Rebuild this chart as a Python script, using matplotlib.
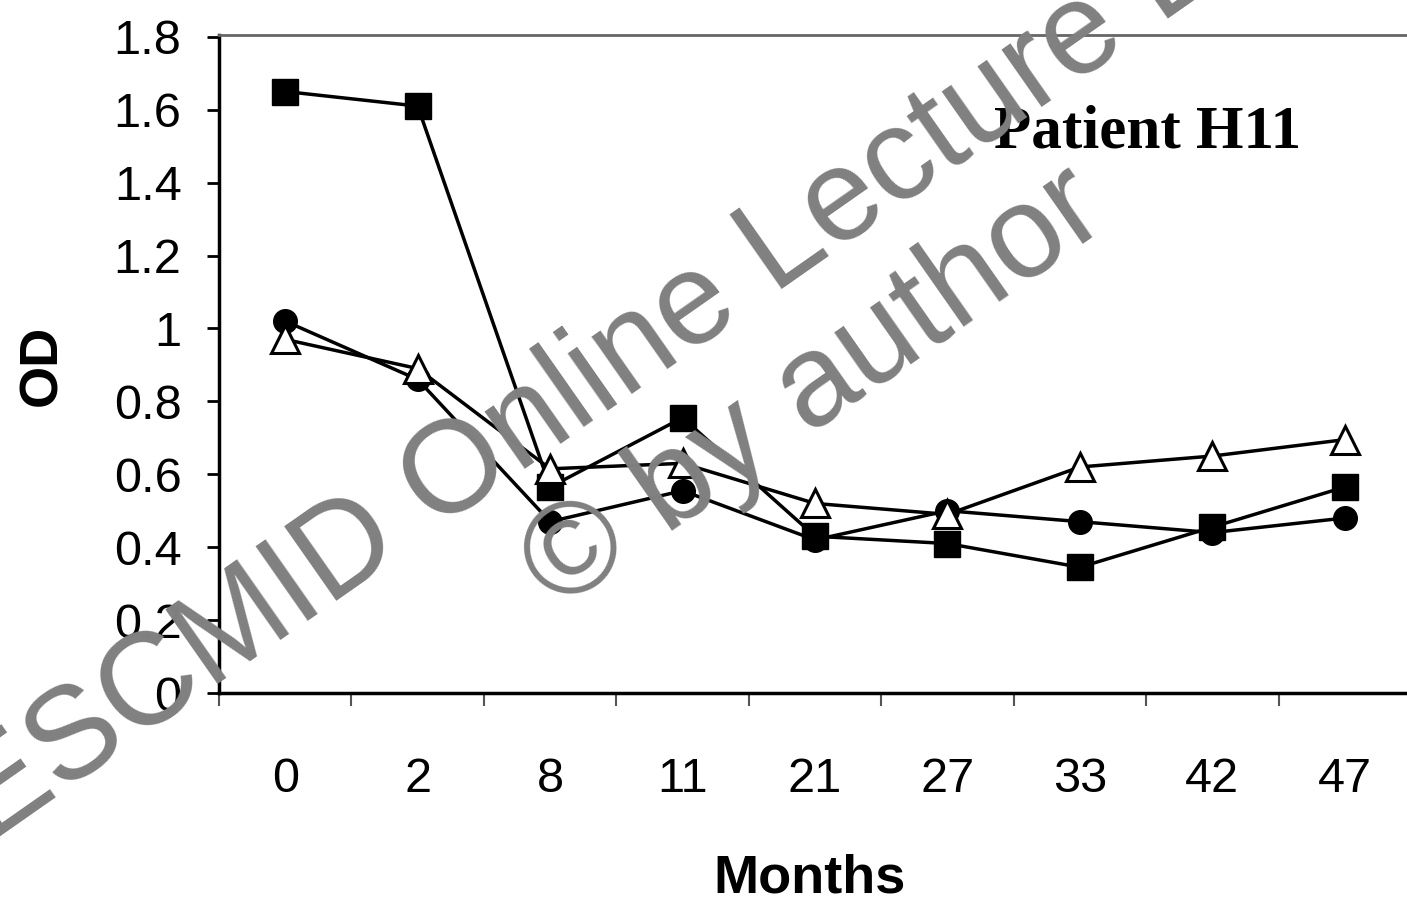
import matplotlib
matplotlib.use("Agg")
import matplotlib.pyplot as plt
import numpy as np

# OD readings per visit month, three antigens
months = ["0", "2", "8", "11", "21", "27", "33", "42", "47"]
od_squares = [1.65, 1.61, 0.565, 0.755, 0.43, 0.41, 0.345, 0.455, 0.565]
od_circles = [1.02, 0.86, 0.47, 0.555, 0.42, 0.50, 0.47, 0.44, 0.48]
od_triangles = [0.97, 0.89, 0.615, 0.63, 0.52, 0.49, 0.62, 0.65, 0.695]
y_ticks = [0, 0.2, 0.4, 0.6, 0.8, 1, 1.2, 1.4, 1.6, 1.8]
y_tick_labels = ["0", "0.2", "0.4", "0.6", "0.8", "1", "1.2", "1.4", "1.6", "1.8"]

plt.rcParams['font.family'] = ['Liberation Sans', 'DejaVu Sans']

W, H = 1407, 905
fig = plt.figure(figsize=(W / 100, H / 100), dpi=100)
ax = fig.add_axes([219 / W, 1 - 693 / H, 1192 / W, (693 - 35) / H])

x = np.arange(len(months))
ax.plot(x, od_circles, color='black', lw=2.5, marker='o', ms=17,
        mfc='black', mec='black', zorder=3, clip_on=False)
ax.plot(x, od_squares, color='black', lw=2.5, marker='s', ms=19,
        mfc='black', mec='black', zorder=4, clip_on=False)
ax.plot(x, od_triangles, color='black', lw=2.5, marker='^', ms=20,
        mfc='white', mec='black', mew=2.2, zorder=5, clip_on=False)

ax.set_xlim(-0.5, len(months) - 0.5)
ax.set_ylim(0, 1.805)

# y axis
ax.set_yticks(y_ticks)
ax.set_yticklabels(y_tick_labels, fontsize=35)
ax.tick_params(axis='y', direction='out', length=9, width=2, pad=18)

# x axis: ticks between categories, labels at categories
ax.set_xticks(np.arange(len(months) + 1) - 0.5)
ax.set_xticklabels([])
ax.tick_params(axis='x', which='major', direction='out', length=9,
               width=1.5, color='#555555')
ax.set_xticks(x, minor=True)
ax.set_xticklabels(months, minor=True, fontsize=35)
ax.tick_params(axis='x', which='minor', length=0, pad=46)

ax.spines['left'].set_linewidth(2.5)
ax.spines['bottom'].set_linewidth(2.5)
ax.spines['top'].set_color('#666666')
ax.spines['top'].set_linewidth(2)
ax.spines['top'].set_linestyle((0, (3, 1)))
ax.spines['right'].set_visible(False)

fig.text(810 / W, 1 - 878 / H, "Months", fontsize=39, fontweight='bold',
         ha='center', va='center')
fig.text(42 / W, 1 - 365 / H, "OD", fontsize=39, fontweight='bold',
         rotation=90, ha='center', va='center')
ax.text(1148 / W, 1 - 133 / H, "Patient H11", transform=fig.transFigure,
        fontsize=44, fontweight='bold', family='Liberation Serif',
        ha='center', va='center', zorder=6)

# watermark
fig.text(718 / W, 1 - 292 / H, "ESCMID Online Lecture Library", fontsize=94,
         color='#808080', rotation=35, rotation_mode='anchor',
         ha='center', va='center', zorder=10)
fig.text(815 / W, 1 - 390 / H, "\u00a9 by author", fontsize=94,
         color='#808080', rotation=35, rotation_mode='anchor',
         ha='center', va='center', zorder=10)

fig.savefig("out.png", dpi=100)
